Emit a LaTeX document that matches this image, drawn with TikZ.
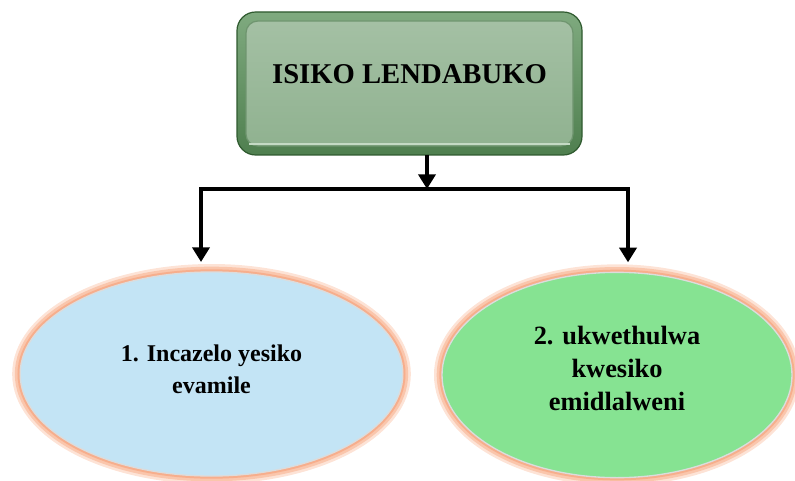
\documentclass[tikz,border=0pt]{standalone}
\usepackage{fontspec}
\setmainfont{Liberation Serif}
\usetikzlibrary{arrows.meta,shapes.geometric,calc}
\definecolor{rimtop}{HTML}{7FAA7F}
\definecolor{rimbot}{HTML}{4F7F4F}
\definecolor{rimedge}{HTML}{2F5A2F}
\definecolor{paneltop}{HTML}{A4C0A4}
\definecolor{panelbot}{HTML}{90B290}
\definecolor{paneledge}{HTML}{6F956F}
\definecolor{panellight}{HTML}{C4DAC4}
\definecolor{glowout}{HTML}{FDE3D6}
\definecolor{glowmid}{HTML}{FAC6AC}
\definecolor{glowin}{HTML}{F7AE8C}
\definecolor{blueell}{HTML}{C3E4F5}
\definecolor{greenell}{HTML}{86E392}
\definecolor{ellline}{HTML}{DCDCDC}
\tikzset{
  topbox/.style={rectangle, rounded corners=14pt, minimum width=258.75pt, minimum height=107.25pt,
    top color=rimtop, bottom color=rimbot, draw=rimedge, line width=0.9pt, outer sep=0pt},
  panel/.style={rounded corners=9pt, top color=paneltop, bottom color=panelbot, draw=paneledge, line width=0.9pt},
  panelhl/.style={draw=panellight, line width=0.8pt, rounded corners=8pt},
  titlefont/.style={font=\bfseries\fontsize{21.5pt}{26pt}\selectfont, text height=0pt, text depth=0pt, inner sep=0pt},
  ovalbox/.style={ellipse, outer sep=0pt, inner sep=0pt, draw=ellline, line width=1pt,
    preaction={draw=glowout, line width=12pt},
    preaction={draw=glowmid, line width=8pt},
    preaction={draw=glowin, line width=4pt},
    align=center},
  conn/.style={line width=3pt, draw=black},
  arr/.style={conn, -{Triangle[width=12.75pt,length=11pt]}},
}
\begin{document}
\begin{tikzpicture}[x=0.75pt,y=-0.75pt]
\useasboundingbox (0,0) rectangle (795,481);
% top box
\node[topbox] (top) at (409.5,83.5) {};
\draw[panel] ($(top.north west)+(9,9)$) rectangle ($(top.south east)+(-9,-9)$);
\draw[panelhl] ($(top.south west)+(12,-11)$) -- ($(top.south east)+(-12,-11)$);
\node[titlefont] (toptext) at (top.center) {ISIKO LENDABUKO};
% ellipses
\node[ovalbox, fill=blueell, minimum width=287pt, minimum height=153pt,
  font=\bfseries\fontsize{18pt}{24pt}\selectfont] (e1) at (211.5,374) {1. Incazelo yesiko\\evamile\\[-16.5pt]};
\node[ovalbox, fill=greenell, minimum width=262.5pt, minimum height=154pt,
  font=\bfseries\fontsize{19.8pt}{25pt}\selectfont] (e2) at (617,375) {2. ukwethulwa\\kwesiko\\emidlalweni\\[-15.25pt]};
% connectors
\coordinate (j) at (427,189);
\coordinate (jl) at (201,189);
\coordinate (jr) at (628,189);
\draw[arr] (top.south -| j) -- (j);
\draw[conn, {Triangle[width=12.75pt,length=11pt]}-{Triangle[width=12.75pt,length=11pt]}, shorten <=7.5pt, shorten >=7.5pt]
  (jl |- e1.north) -- (jl) -- (jr) -- (jr |- e2.north);
\end{tikzpicture}
\end{document}
